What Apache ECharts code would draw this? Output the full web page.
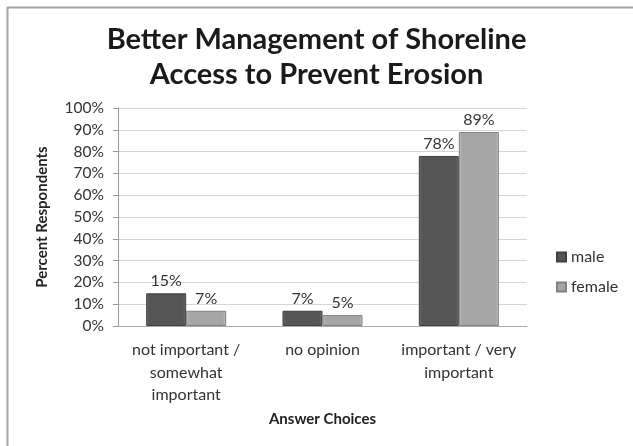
<!DOCTYPE html>
<html>
<head>
<meta charset="utf-8">
<script src="https://cdn.jsdelivr.net/npm/echarts@6/dist/echarts.min.js"></script>
<style>
  html, body { margin: 0; padding: 0; background: #fff; }
  #chart { width: 633px; height: 446px; }
</style>
</head>
<body>
<div id="chart"></div>
<script>
// Survey responses: shoreline access management
const categories = ['not important /\nsomewhat\nimportant', 'no opinion', 'important / very\nimportant'];
const maleValues = [15, 7, 78];
const femaleValues = [7, 5, 89];
const seriesNames = ['male', 'female'];

const FONT = 'Lato, "Open Sans", sans-serif';

function barFill(edge, mid) {
  return {
    type: 'linear', x: 0, y: 0, x2: 1, y2: 0,
    colorStops: [
      { offset: 0, color: edge },
      { offset: 0.08, color: mid },
      { offset: 0.92, color: mid },
      { offset: 1, color: edge }
    ]
  };
}

const chart = echarts.init(document.getElementById('chart'));
chart.setOption({
  backgroundColor: '#fff',
  animation: false,
  graphic: [{
    type: 'polyline',
    shape: { points: [[7.5, 446], [7.5, 7.5], [633, 7.5]] },
    style: { fill: 'none', stroke: '#a3a3a3', lineWidth: 2 },
    z: -1
  }],
  title: {
    text: 'Better Management of Shoreline\nAccess to Prevent Erosion',
    left: 'center',
    top: 17,
    textStyle: {
      fontFamily: FONT, fontWeight: 'bold', fontSize: 29,
      lineHeight: 35, color: '#1a1a1a'
    }
  },
  legend: {
    orient: 'vertical',
    left: 551,
    top: 244,
    itemWidth: 9,
    itemHeight: 9,
    itemGap: 14,
    icon: 'rect',
    textStyle: { fontFamily: FONT, fontSize: 16, color: '#333' },
    data: seriesNames
  },
  grid: { left: 118, right: 106, top: 108, bottom: 120 },
  xAxis: {
    type: 'category',
    data: categories,
    name: 'Answer Choices',
    nameLocation: 'middle',
    nameGap: 86,
    nameTextStyle: { fontFamily: FONT, fontWeight: 'bold', fontSize: 15, color: '#222' },
    axisLine: { lineStyle: { color: '#aaa' } },
    axisTick: { show: false },
    axisLabel: { interval: 0, fontFamily: FONT, fontSize: 16, color: '#333', lineHeight: 22.5, margin: 13 }
  },
  yAxis: {
    type: 'value',
    min: 0, max: 100, interval: 10,
    name: 'Percent Respondents',
    nameLocation: 'middle',
    nameGap: 68,
    nameTextStyle: { fontFamily: FONT, fontWeight: 'bold', fontSize: 15, color: '#222' },
    axisLine: { show: true, lineStyle: { color: '#999' } },
    axisTick: { show: true, length: 5, lineStyle: { color: '#999' } },
    axisLabel: { formatter: '{value}%', fontFamily: FONT, fontSize: 15.5, color: '#333', margin: 14 },
    splitLine: { lineStyle: { color: '#d6d6d6' } }
  },
  series: [
    {
      name: seriesNames[0], type: 'bar', data: maleValues,
      barWidth: 40, barGap: '0%',
      itemStyle: { color: barFill('#6e6e6e', '#555555'), borderColor: '#404040', borderWidth: 1 },
      label: { show: true, position: 'top', formatter: '{c}%', fontFamily: FONT, fontSize: 16, color: '#333', distance: 4 }
    },
    {
      name: seriesNames[1], type: 'bar', data: femaleValues,
      barWidth: 40, barGap: '0%',
      itemStyle: { color: barFill('#c4c4c4', '#a6a6a6'), borderColor: '#808080', borderWidth: 1 },
      label: { show: true, position: 'top', formatter: '{c}%', fontFamily: FONT, fontSize: 16, color: '#333', distance: 4 }
    }
  ]
});
</script>
</body>
</html>
